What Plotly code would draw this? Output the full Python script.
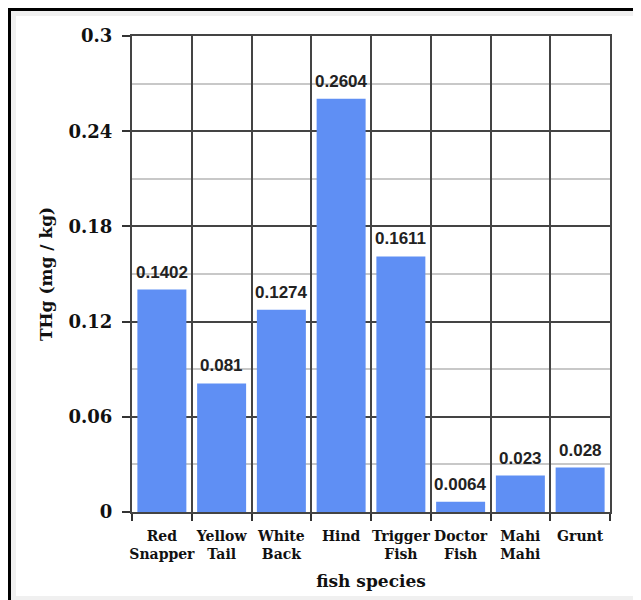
import plotly.graph_objects as go

species = ["Red<br>Snapper", "Yellow<br>Tail", "White<br>Back", "Hind",
           "Trigger<br>Fish", "Doctor<br>Fish", "Mahi<br>Mahi", "Grunt"]
thg = [0.1402, 0.081, 0.1274, 0.2604, 0.1611, 0.0064, 0.023, 0.028]
value_labels = ["0.1402", "0.081", "0.1274", "0.2604", "0.1611", "0.0064", "0.023", "0.028"]
y_ticks = [0, 0.06, 0.12, 0.18, 0.24, 0.3]
y_ticktext = ["0", "0.06", "0.12", "0.18", "0.24", "0.3"]

# page body has an 8px margin: the figure starts at (8, 8) in the window
OFF = 8
W, H = 641 - OFF, 600 - OFF
L, R, T, B = 132 - OFF, 31, 36 - OFF, 88
pw, ph = W - L - R, H - T - B

def px(x):
    return (x - OFF - L) / pw

def py(y):
    return (H - B - (y - OFF)) / ph

fig = go.Figure()
fig.add_trace(go.Bar(
    x=species, y=thg,
    marker=dict(color="#5f8ff4", line=dict(width=0)),
))

for cat, val, lab in zip(species, thg, value_labels):
    fig.add_annotation(
        x=cat, y=val, text=lab, showarrow=False,
        yanchor="bottom", yshift=6,
        font=dict(family="Liberation Sans", size=17, color="#222", weight="bold"),
    )

serif = "DejaVu Serif"
fig.update_layout(
    width=W, height=H,
    margin=dict(l=L, r=R, t=T, b=B, autoexpand=False),
    paper_bgcolor="white", plot_bgcolor="white",
    bargap=0.18,
    showlegend=False,
    xaxis=dict(
        tickson="boundaries", ticks="outside", ticklen=7, tickwidth=2, tickcolor="#333",
        tickangle=0, ticklabelstandoff=10,
        showgrid=True, gridcolor="#444", gridwidth=2,
        showline=True, linecolor="#444", linewidth=2, mirror=True,
        tickfont=dict(family=serif, size=14, color="#111", weight="bold"),
        title=dict(text="<b>fish species</b>", font=dict(family=serif, size=17, color="#111"), standoff=14),
        automargin=False,
    ),
    yaxis=dict(
        range=[0, 0.3], tickvals=y_ticks, ticktext=y_ticktext,
        ticks="outside", ticklen=8, tickwidth=2, tickcolor="#333",
        ticklabelstandoff=6,
        showgrid=True, gridcolor="#444", gridwidth=2,
        zeroline=False,
        showline=True, linecolor="#444", linewidth=2, mirror=True,
        minor=dict(dtick=0.03, showgrid=True, gridcolor="#c8c8c8", gridwidth=2, ticks=""),
        tickfont=dict(family=serif, size=18, color="#111", weight="bold"),
        title=dict(text="<b>THg (mg / kg)</b>", font=dict(family=serif, size=17, color="#111"), standoff=12),
        automargin=False,
    ),
    shapes=[
        dict(type="rect", xref="paper", yref="paper", layer="below",
             x0=px(11), x1=px(641), y0=py(600), y1=py(11),
             fillcolor="#f0f0f0", line=dict(width=0)),
        dict(type="rect", xref="paper", yref="paper", layer="below",
             x0=px(16), x1=px(637), y0=py(596), y1=py(16),
             fillcolor="white", line=dict(width=0)),
        dict(type="line", xref="paper", yref="paper",
             x0=px(8), x1=px(641), y0=py(9.5), y1=py(9.5),
             line=dict(color="black", width=3)),
        dict(type="line", xref="paper", yref="paper",
             x0=px(9.5), x1=px(9.5), y0=py(8), y1=py(600),
             line=dict(color="black", width=3)),
    ],
)

fig.write_html("out.html")
